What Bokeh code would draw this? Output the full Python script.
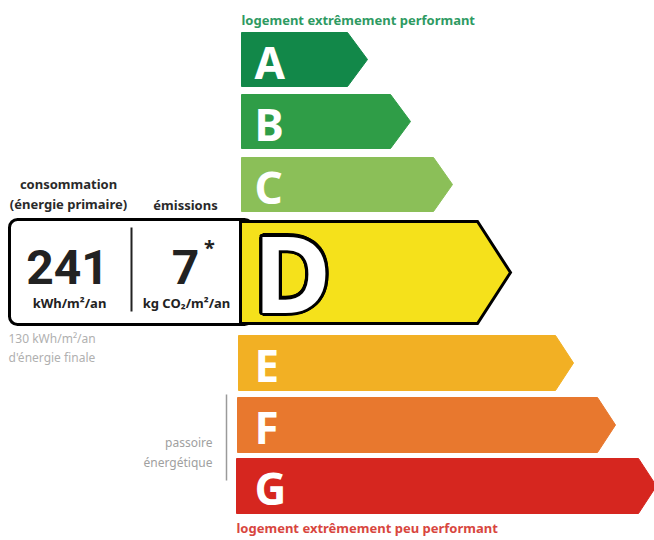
import math
from bokeh.plotting import figure
from bokeh.models import Range1d
from bokeh.core.properties import value
from bokeh.embed import file_html
from bokeh.resources import INLINE

# ---------------- data ----------------
classes = ["A", "B", "C", "D", "E", "F", "G"]
class_colors = ["#128849", "#2f9d47", "#8bbf58", "#f5e11b", "#f2b024", "#e8782e", "#d6261f"]
rating = "D"
consumption_primary = 241
consumption_unit = "kWh/m²/an"
emissions = 7
emissions_unit = "kg CO₂/m²/an"
consumption_final = 130
final_label = "d'énergie finale"
header_consumption = ["consommation", "(énergie primaire)"]
header_emissions = "émissions"
top_label = "logement extrêmement performant"
bottom_label = "logement extrêmement peu performant"
passoire_label = ["passoire", "énergétique"]

# ---------------- layout (reference pixel coords) ----------------
left_x = [241, 241, 241, 240, 238, 237, 236]
tops = [32, 94, 157, 221, 335, 397, 458]
bottoms = [86, 148, 211, 323, 390, 452, 513]
body_end = [347, 390, 433, 477, 555, 597, 638]
tip_x = [367, 410, 452, 510, 573, 615, 656]

W, H = 654, 540
p = figure(width=W, height=H, output_backend="svg", toolbar_location=None,
           x_range=Range1d(0, 654), y_range=Range1d(540, 0), min_border=0)
p.axis.visible = False
p.grid.visible = False
p.outline_line_color = None
p.background_fill_color = "white"
p.border_fill_color = "white"

FONT = value("Noto Sans")
NUMF = value("Roboto")

ri = classes.index(rating)

# left box (behind rated arrow)
p.quad(left=9, right=252, top=[219], bottom=[324], fill_color="white",
       line_color="black", line_width=3, border_radius=8)

# arrows
xs, ys, cols = [], [], []
for i, c in enumerate(classes):
    mid = (tops[i] + bottoms[i]) / 2
    xs.append([left_x[i], body_end[i], tip_x[i], body_end[i], left_x[i]])
    ys.append([tops[i], tops[i], mid, bottoms[i], bottoms[i]])
    cols.append(class_colors[i])

other = [i for i in range(len(classes)) if i != ri]
p.patches(xs=[xs[i] for i in other], ys=[ys[i] for i in other],
          fill_color=[cols[i] for i in other], line_color=[cols[i] for i in other], line_width=1)
p.patches(xs=[xs[ri]], ys=[ys[ri]], fill_color=cols[ri], line_color="black",
          line_width=3, line_join="miter")

# letters
for i in other:
    mid = (tops[i] + bottoms[i]) / 2
    p.text(x=[254], y=[mid + 2], text=[classes[i]], text_color="white", text_font=FONT,
           text_font_style="bold", text_font_size="44px", text_baseline="middle", text_align="left")

# rated letter with black outline
dmid = (tops[ri] + bottoms[ri]) / 2
for k in range(16):
    a = 2 * math.pi * k / 16
    p.text(x=[253], y=[dmid - 1], text=[classes[ri]], text_color="black", text_font=FONT,
           text_font_style="bold", text_font_size="106px", text_baseline="middle", text_align="left",
           x_offset=3.2 * math.cos(a), y_offset=3.2 * math.sin(a))
p.text(x=[253], y=[dmid - 1], text=[classes[ri]], text_color="white", text_font=FONT,
       text_font_style="bold", text_font_size="106px", text_baseline="middle", text_align="left")

# divider in the box
p.segment(x0=[131], y0=[227], x1=[131], y1=[311], line_color="#222222", line_width=2)

# values
p.text(x=[67], y=[266], text=[str(consumption_primary)], text_color="#222222", text_font=NUMF,
       text_font_style="bold", text_font_size="48px", text_baseline="middle", text_align="center")
p.text(x=[185], y=[266], text=[str(emissions)], text_color="#222222", text_font=NUMF,
       text_font_style="bold", text_font_size="48px", text_baseline="middle", text_align="center")
p.text(x=[209], y=[247], text=["*"], text_color="#222222", text_font=FONT,
       text_font_style="bold", text_font_size="20px", text_baseline="middle", text_align="center")
p.text(x=[69], y=[302], text=[consumption_unit], text_color="#222222", text_font=FONT,
       text_font_style="bold", text_font_size="13px", text_baseline="middle", text_align="center")
p.text(x=[186], y=[302], text=[emissions_unit], text_color="#222222", text_font=FONT,
       text_font_style="bold", text_font_size="13px", text_baseline="middle", text_align="center")

# headers
p.text(x=[68, 68], y=[183, 203], text=header_consumption, text_color="#2a2a2a", text_font=FONT,
       text_font_style="bold", text_font_size="13px", text_baseline="middle", text_align="center")
p.text(x=[185], y=[204], text=[header_emissions], text_color="#2a2a2a", text_font=FONT,
       text_font_style="bold", text_font_size="13px", text_baseline="middle", text_align="center")

# final energy (grey)
p.text(x=[8, 8], y=[338, 357], text=[f"{consumption_final} kWh/m²/an", final_label],
       text_color="#b0b0b0", text_font=FONT, text_font_size="12px",
       text_baseline="middle", text_align="left")

# passoire
p.segment(x0=[226], y0=[394], x1=[226], y1=[480], line_color="#9a9a9a", line_width=1.5)
p.text(x=[212, 212], y=[442, 462], text=passoire_label, text_color="#a0a0a0", text_font=FONT,
       text_font_size="12px", text_baseline="middle", text_align="right")

# top / bottom labels
p.text(x=[241], y=[19], text=[top_label], text_color="#2e9a62", text_font=FONT,
       text_font_size="13px", text_font_style="bold", text_baseline="middle", text_align="left")
p.text(x=[236], y=[527], text=[bottom_label], text_color="#d8463e", text_font=FONT,
       text_font_size="13px", text_font_style="bold", text_baseline="middle", text_align="left")

open("out.html", "w").write(file_html(p, INLINE))
